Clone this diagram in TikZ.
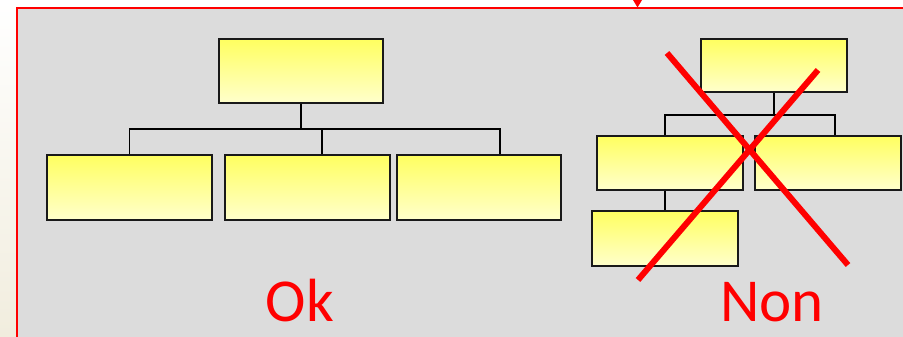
\documentclass[tikz,border=0pt]{standalone}
\usepackage{fontspec}
\setmainfont{Carlito}
\usetikzlibrary{calc}
\definecolor{panelgray}{HTML}{DCDCDC}
\definecolor{sidebeige}{HTML}{F1EDDE}
\definecolor{boxtop}{HTML}{FFFF60}
\definecolor{boxbottom}{HTML}{FFFFCC}
\begin{document}
\begin{tikzpicture}[x=1pt,y=-1pt,
  orgbox/.style={draw=black!90, line width=1.3pt, inner sep=0pt,
    top color=boxtop, bottom color=boxbottom},
  link/.style={draw=black, line width=1.3pt},
  cross/.style={draw=red, line width=6pt, line cap=butt},
  verdict/.style={text=red, font=\fontsize{61}{61}\selectfont, inner sep=0pt, anchor=base}]
  \useasboundingbox (0,0) rectangle (903,337);
  % page background: white top, warm side strip
  \fill[white] (0,0) rectangle (903,337);
  \fill[top color=white, bottom color=sidebeige] (0,0) rectangle (17,337);
  % grey panel with red frame
  \filldraw[fill=panelgray, draw=red, line width=1.6pt] (17,8) rectangle (912,346);
  % incoming arrow tip on the frame
  \fill[red] (633,0) -- (642,0) -- (637.5,7.5) -- cycle;

  % left chart: flat hierarchy
  \node[orgbox, minimum width=164pt, minimum height=64pt] (t1) at (301,71) {};
  \node[orgbox, minimum width=165pt, minimum height=65pt] (b1) at (129.5,187.5) {};
  \node[orgbox, minimum width=165pt, minimum height=65pt] (b2) at (307.5,187.5) {};
  \node[orgbox, minimum width=164pt, minimum height=65pt] (b3) at (479,187.5) {};
  \coordinate (busL) at (0,129);
  \draw[link] (t1.south) -- (t1.south |- busL);
  \draw[link] (b1.north) -- (b1.north |- busL)
    -- ([xshift=21pt]b3.north |- busL) -- ([xshift=21pt]b3.north);
  \draw[link] ([xshift=14.5pt]b2.north) -- ([xshift=14.5pt]b2.north |- busL);
  \node[verdict] (ok) at (300,321) {Ok};

  % right chart: unbalanced hierarchy
  \node[orgbox, minimum width=146pt, minimum height=53pt] (t2) at (774,65.5) {};
  \node[orgbox, minimum width=146pt, minimum height=54pt] (ra) at (670,163) {};
  \node[orgbox, minimum width=146pt, minimum height=54pt] (rb) at (828,163) {};
  \node[orgbox, minimum width=146pt, minimum height=55pt] (rc) at (665,238.5) {};
  \coordinate (busR) at (0,115);
  \draw[link] (t2.south) -- (t2.south |- busR);
  \draw[link] ([xshift=-5pt]ra.north) -- ([xshift=-5pt]ra.north |- busR)
    -- ([xshift=7pt]rb.north |- busR) -- ([xshift=7pt]rb.north);
  \draw[link] ([xshift=-5pt]ra.south) -- (rc.north);

  % red cross over the right chart
  \coordinate (x1a) at (667,53);
  \coordinate (x1b) at (848,265);
  \coordinate (x2a) at (818,70);
  \coordinate (x2b) at (638,280);
  \draw[cross] (x1a) -- (x1b);
  \draw[cross] (x2a) -- (x2b);
  \node[verdict] (non) at (772,321) {Non};
\end{tikzpicture}
\end{document}
